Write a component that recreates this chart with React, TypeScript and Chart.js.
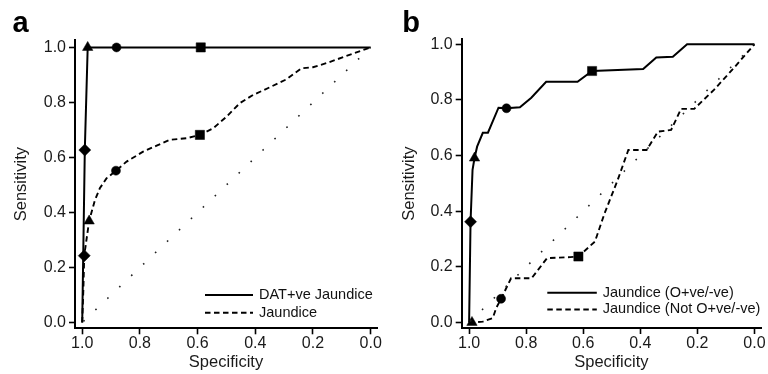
import React, { useEffect, useRef } from 'react';
import { Chart, registerables } from 'chart.js';

Chart.register(...registerables);

const FONT = "'Liberation Sans', Arial, Helvetica, sans-serif";

// ---------- shared axis data ----------
const TICK_VALUES = [0, 0.2, 0.4, 0.6, 0.8, 1.0];
const X_TITLE = 'Specificity';
const Y_TITLE = 'Sensitivity';
const DIAG_SPEC = [1.0, 0.0];
const DIAG_SENS = [0.0, 1.0];

// ---------- panel a ----------
const A_SOLID_SPEC = [1.0, 0.991, 0.981, 0.881, 0.589, 0.0];
const A_SOLID_SENS = [0.0, 0.627, 1.0, 1.0, 1.0, 1.0];
const A_DASH_SPEC = [1.0, 0.996, 0.993, 0.976, 0.956, 0.939, 0.916, 0.883, 0.846, 0.789, 0.742, 0.696, 0.638, 0.592, 0.546, 0.5, 0.454, 0.408, 0.35, 0.292, 0.24, 0.2, 0.153, 0.084, 0.0];
const A_DASH_SENS = [0.0, 0.12, 0.243, 0.369, 0.445, 0.488, 0.524, 0.552, 0.585, 0.621, 0.643, 0.664, 0.67, 0.682, 0.706, 0.748, 0.797, 0.827, 0.855, 0.884, 0.924, 0.928, 0.943, 0.969, 1.0];
const A_SOLID_MK_SPEC = [0.991, 0.981, 0.881, 0.589];
const A_SOLID_MK_SENS = [0.627, 1.0, 1.0, 1.0];
const A_SOLID_MK_STYLE = ['rectRot', 'triangle', 'circle', 'rect'];
const A_DASH_MK_SPEC = [0.993, 0.976, 0.883, 0.592];
const A_DASH_MK_SENS = [0.243, 0.369, 0.552, 0.682];
const A_DASH_MK_STYLE = ['rectRot', 'triangle', 'circle', 'rect'];
const A_LEGEND = ['DAT+ve Jaundice', 'Jaundice'];

// ---------- panel b ----------
const B_SOLID_SPEC = [1.0, 0.995, 0.988, 0.981, 0.972, 0.952, 0.934, 0.897, 0.869, 0.822, 0.782, 0.73, 0.62, 0.569, 0.39, 0.344, 0.286, 0.236, 0.0];
const B_SOLID_SENS = [0.0, 0.362, 0.549, 0.591, 0.632, 0.682, 0.682, 0.772, 0.77, 0.774, 0.808, 0.865, 0.865, 0.904, 0.911, 0.953, 0.955, 1.0, 1.0];
const B_DASH_SPEC = [1.0, 0.99, 0.952, 0.917, 0.905, 0.888, 0.853, 0.781, 0.727, 0.646, 0.617, 0.559, 0.525, 0.479, 0.442, 0.378, 0.338, 0.292, 0.257, 0.211, 0.142, 0.073, 0.0];
const B_DASH_SENS = [0.0, 0.0, 0.003, 0.016, 0.052, 0.085, 0.159, 0.159, 0.231, 0.235, 0.237, 0.291, 0.393, 0.513, 0.62, 0.62, 0.686, 0.692, 0.768, 0.768, 0.836, 0.914, 1.0];
const B_SOLID_MK_SPEC = [0.995, 0.981, 0.869, 0.569];
const B_SOLID_MK_SENS = [0.362, 0.591, 0.77, 0.904];
const B_SOLID_MK_STYLE = ['rectRot', 'triangle', 'circle', 'rect'];
const B_DASH_MK_SPEC = [0.99, 0.888, 0.617];
const B_DASH_MK_SENS = [0.0, 0.085, 0.237];
const B_DASH_MK_STYLE = ['triangle', 'circle', 'rect'];
const B_LEGEND = ['Jaundice (O+ve/-ve)', 'Jaundice (Not O+ve/-ve)'];

const MARKER_RADIUS: Record<string, number> = { circle: 4.5, rect: 6.5, triangle: 6, rectRot: 6 };

const xy = (xs: number[], ys: number[]) => xs.map((x, i) => ({ x, y: ys[i] }));

const overlayPlugin = {
  id: 'overlay',
  afterDraw(chart: any, _args: any, o: any) {
    const ctx = chart.ctx;
    ctx.save();
    ctx.fillStyle = '#000';
    ctx.textBaseline = 'alphabetic';
    ctx.textAlign = 'left';
    ctx.font = `bold 29px ${FONT}`;
    ctx.fillText(o.label, o.labelX, o.labelY);
    ctx.font = `14.5px ${FONT}`;
    ctx.textBaseline = 'middle';
    o.legend.forEach((text: string, i: number) => {
      const y = o.legendY + i * o.legendRow;
      ctx.beginPath();
      ctx.setLineDash(i === 0 ? [] : [5.5, 3.5]);
      ctx.lineWidth = 2;
      ctx.strokeStyle = '#000';
      ctx.moveTo(o.legendX, y);
      ctx.lineTo(o.legendX + o.legendLen, y);
      ctx.stroke();
      ctx.setLineDash([]);
      ctx.fillStyle = '#111';
      ctx.fillText(text, o.legendX + o.legendLen + 6, y);
    });
    ctx.restore();
  },
};

function makeConfig(p: any): any {
  const markerSet = (sx: number[], sy: number[], st: string[]) => ({
    data: xy(sx, sy),
    showLine: false,
    pointStyle: st,
    pointRadius: st.map((s) => MARKER_RADIUS[s]),
    pointHoverRadius: st.map((s) => MARKER_RADIUS[s]),
    backgroundColor: '#000',
    borderColor: '#000',
    borderWidth: 0.5,
  });
  return {
    type: 'scatter',
    data: {
      datasets: [
        {
          data: xy(DIAG_SPEC, DIAG_SENS),
          showLine: true,
          borderColor: '#222',
          borderWidth: 1.6,
          borderDash: [1.6, 14.9],
          borderDashOffset: p.diagOffset,
          pointRadius: 0,
        },
        {
          data: xy(p.dashSpec, p.dashSens),
          showLine: true,
          borderColor: '#000',
          borderWidth: 1.9,
          borderDash: [5.5, 3.5],
          pointRadius: 0,
        },
        {
          data: xy(p.solidSpec, p.solidSens),
          showLine: true,
          borderColor: '#000',
          borderWidth: 2,
          pointRadius: 0,
        },
        markerSet(p.dashMkSpec, p.dashMkSens, p.dashMkStyle),
        markerSet(p.solidMkSpec, p.solidMkSens, p.solidMkStyle),
      ],
    },
    options: {
      responsive: false,
      animation: false,
      events: [],
      layout: { padding: { left: 0, right: p.rightPad, top: p.top, bottom: 0 } },
      plugins: {
        legend: { display: false },
        tooltip: { enabled: false },
        overlay: p.overlay,
      },
      scales: {
        x: {
          type: 'linear',
          reverse: true,
          min: p.xMin,
          max: p.xMax,
          afterBuildTicks: (s: any) => {
            s.ticks = TICK_VALUES.map((v) => ({ value: v }));
          },
          afterFit: (s: any) => {
            s.height = p.xAxisH;
            s.paddingLeft = 0;
            s.paddingRight = 0;
          },
          ticks: {
            font: { family: FONT, size: 16 },
            color: '#1a1a1a',
            padding: 0,
            autoSkip: false,
            maxRotation: 0,
            callback: (v: any) => Number(v).toFixed(1),
          },
          grid: { display: true, drawOnChartArea: false, drawTicks: true, tickLength: 6, tickColor: '#000', tickWidth: 1.6 },
          border: { display: true, color: '#000', width: 2 },
          title: { display: true, text: X_TITLE, font: { family: FONT, size: 16.5 }, color: '#1a1a1a', padding: { top: 0, bottom: 2 } },
        },
        y: {
          type: 'linear',
          min: p.yMin,
          max: p.yMax,
          afterBuildTicks: (s: any) => {
            s.ticks = TICK_VALUES.map((v) => ({ value: v }));
          },
          afterFit: (s: any) => {
            s.width = p.yAxisW;
            s.paddingTop = 0;
            s.paddingBottom = 0;
          },
          ticks: {
            font: { family: FONT, size: 16 },
            color: '#1a1a1a',
            padding: 3,
            autoSkip: false,
            callback: (v: any) => Number(v).toFixed(1),
          },
          grid: { display: true, drawOnChartArea: false, drawTicks: true, tickLength: 6, tickColor: '#000', tickWidth: 1.6 },
          border: { display: true, color: '#000', width: 2 },
          title: { display: true, text: Y_TITLE, font: { family: FONT, size: 16.5 }, color: '#1a1a1a', padding: { top: p.yTitlePad, bottom: 0 } },
        },
      },
    },
    plugins: [overlayPlugin],
  };
}

const PANEL_A = {
  solidSpec: A_SOLID_SPEC, solidSens: A_SOLID_SENS,
  dashSpec: A_DASH_SPEC, dashSens: A_DASH_SENS,
  solidMkSpec: A_SOLID_MK_SPEC, solidMkSens: A_SOLID_MK_SENS, solidMkStyle: A_SOLID_MK_STYLE,
  dashMkSpec: A_DASH_MK_SPEC, dashMkSens: A_DASH_MK_SENS, dashMkStyle: A_DASH_MK_STYLE,
  xMin: -0.022, xMax: 1.025, yMin: -0.021, yMax: 1.027,
  top: 40, rightPad: 6.7, xAxisH: 45.7, yAxisW: 75, yTitlePad: 11.7, diagOffset: 14.8,
  overlay: { label: 'a', labelX: 12.5, labelY: 31.7, legend: A_LEGEND, legendX: 205, legendY: 295, legendRow: 17.7, legendLen: 48 },
};

const PANEL_B = {
  solidSpec: B_SOLID_SPEC, solidSens: B_SOLID_SENS,
  dashSpec: B_DASH_SPEC, dashSens: B_DASH_SENS,
  solidMkSpec: B_SOLID_MK_SPEC, solidMkSens: B_SOLID_MK_SENS, solidMkStyle: B_SOLID_MK_STYLE,
  dashMkSpec: B_DASH_MK_SPEC, dashMkSens: B_DASH_MK_SENS, dashMkStyle: B_DASH_MK_STYLE,
  xMin: -0.023, xMax: 1.026, yMin: -0.02, yMax: 1.018,
  top: 39.3, rightPad: 3, xAxisH: 46, yAxisW: 77.7, yTitlePad: 16, diagOffset: 15.0,
  overlay: { label: 'b', labelX: 18.3, labelY: 32, legend: B_LEGEND, legendX: 163.3, legendY: 292.7, legendRow: 16.7, legendLen: 49.5 },
};

function Panel({ cfg, left }: { cfg: any; left: number }) {
  const ref = useRef<HTMLCanvasElement>(null);
  useEffect(() => {
    if (!ref.current) return;
    const chart = new Chart(ref.current, makeConfig(cfg));
    return () => chart.destroy();
  }, [cfg]);
  return (
    <div style={{ position: 'absolute', left, top: 0, width: 384, height: 374 }}>
      <canvas ref={ref} width={384} height={374} style={{ width: 384, height: 374, display: 'block' }} />
    </div>
  );
}

export default function App() {
  return (
    <div style={{ position: 'fixed', left: 0, top: 0, width: 768, height: 374, background: '#fff', overflow: 'hidden' }}>
      <Panel cfg={PANEL_A} left={0} />
      <Panel cfg={PANEL_B} left={384} />
    </div>
  );
}
